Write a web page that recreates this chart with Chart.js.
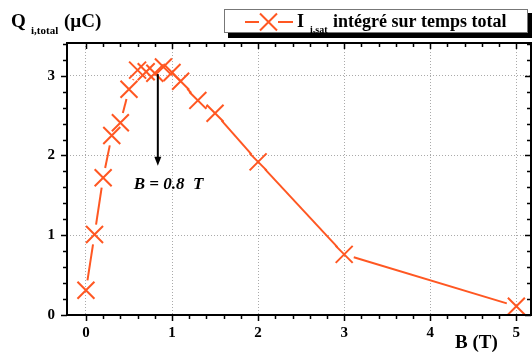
<!DOCTYPE html>
<html>
<head>
<meta charset="utf-8">
<script src="https://cdn.jsdelivr.net/npm/chart.js@4.4.0/dist/chart.umd.min.js"></script>
<style>
  html, body { margin: 0; padding: 0; background: #fff; }
  #wrap { width: 532px; height: 352px; }
</style>
</head>
<body>
<div id="wrap"><canvas id="qChart" width="532" height="352"></canvas></div>
<script>
// B field (T) and integrated charge Q (µC)
const bValues = [0, 0.1, 0.2, 0.3, 0.4, 0.5, 0.6, 0.7, 0.8, 0.9, 1.0, 1.1, 1.3, 1.5, 2, 3, 5];
const qValues = [0.31, 1.01, 1.72, 2.25, 2.41, 2.83, 3.07, 3.05, 3.03, 3.11, 3.04, 2.93, 2.69, 2.53, 1.92, 0.76, 0.11];
const xTicks = [0, 1, 2, 3, 4, 5];
const yTicks = [0, 1, 2, 3];
const seriesLabel = 'intégré sur temps total';
const noteText = 'B = 0.8  T';

const orange = '#ff5722';
const serif = "'Liberation Serif', 'Times New Roman', serif";

// line with gaps round the markers, like the original plot
const gappedLine = {
    id: 'gappedLine',
    beforeDatasetsDraw(chart) {
        const ctx = chart.ctx;
        const pts = chart.getDatasetMeta(0).data;
        const gap = 10;
        ctx.save();
        ctx.strokeStyle = orange;
        ctx.lineWidth = 2;
        for (let i = 0; i < pts.length - 1; i++) {
            const a = pts[i], b = pts[i + 1];
            const dx = b.x - a.x, dy = b.y - a.y;
            const len = Math.hypot(dx, dy);
            if (len <= 2 * gap) continue;
            const ux = dx / len, uy = dy / len;
            ctx.beginPath();
            ctx.moveTo(a.x + ux * gap, a.y + uy * gap);
            ctx.lineTo(b.x - ux * gap, b.y - uy * gap);
            ctx.stroke();
        }
        ctx.restore();
    }
};

// frame with major and minor ticks on all four sides
const frameTicks = {
    id: 'frameTicks',
    afterDraw(chart) {
        const ctx = chart.ctx;
        const { left, right, top, bottom } = chart.chartArea;
        const xs = chart.scales.x, ys = chart.scales.y;
        ctx.save();
        ctx.strokeStyle = '#000';
        ctx.lineWidth = 2;
        ctx.strokeRect(left, top, right - left, bottom - top);
        ctx.lineWidth = 1.5;
        ctx.beginPath();
        for (let v = 0; v <= 5.1; v += 0.2) {
            const major = Math.abs(v - Math.round(v)) < 1e-6;
            const px = Math.round(xs.getPixelForValue(v)) + 0.5;
            ctx.moveTo(px, bottom);
            ctx.lineTo(px, bottom + (major ? 6 : 4));
            ctx.moveTo(px, top);
            ctx.lineTo(px, top + (major ? 6 : 4));
        }
        for (let v = 0; v <= 3.41; v += 0.2) {
            const major = Math.abs(v - Math.round(v)) < 1e-6;
            const py = Math.round(ys.getPixelForValue(v)) + 0.5;
            ctx.moveTo(left, py);
            ctx.lineTo(left - (major ? 6 : 4), py);
            ctx.moveTo(right, py);
            ctx.lineTo(right - (major ? 6 : 4), py);
        }
        ctx.stroke();
        ctx.restore();
    }
};

// arrow, note, axis titles and legend box
const annotations = {
    id: 'annotations',
    afterDraw(chart) {
        const ctx = chart.ctx;
        const xs = chart.scales.x, ys = chart.scales.y;
        ctx.save();

        // arrow at B = 0.8 T
        const ax = xs.getPixelForValue(0.835);
        const ay0 = ys.getPixelForValue(3.02);
        const ay1 = ys.getPixelForValue(1.87);
        ctx.strokeStyle = '#000';
        ctx.fillStyle = '#000';
        ctx.lineWidth = 2;
        ctx.beginPath();
        ctx.moveTo(ax, ay0);
        ctx.lineTo(ax, ay1 - 8);
        ctx.stroke();
        ctx.beginPath();
        ctx.moveTo(ax - 3.5, ay1 - 9);
        ctx.lineTo(ax + 3.5, ay1 - 9);
        ctx.lineTo(ax, ay1);
        ctx.closePath();
        ctx.fill();

        ctx.font = 'italic bold 17px ' + serif;
        ctx.textAlign = 'center';
        ctx.textBaseline = 'middle';
        ctx.fillText(noteText, xs.getPixelForValue(0.96), ys.getPixelForValue(1.63));

        // y axis title
        ctx.textAlign = 'left';
        ctx.textBaseline = 'alphabetic';
        ctx.font = 'bold 19px ' + serif;
        ctx.fillText('Q', 11, 27);
        ctx.font = 'bold 11px ' + serif;
        ctx.fillText('i,total', 31, 34);
        ctx.font = 'bold 19px ' + serif;
        ctx.fillText('(µC)', 64, 27);

        // x axis title
        ctx.font = 'bold 19px ' + serif;
        ctx.fillText('B (T)', 455, 348);

        // legend box with shadow
        ctx.fillStyle = '#000';
        ctx.fillRect(228, 13, 304, 25);
        ctx.fillStyle = '#fff';
        ctx.fillRect(224, 9, 304, 24);
        ctx.strokeStyle = '#777';
        ctx.lineWidth = 1;
        ctx.strokeRect(224.5, 9.5, 303, 23);

        ctx.strokeStyle = orange;
        ctx.lineWidth = 2;
        ctx.beginPath();
        ctx.moveTo(245, 22);
        ctx.lineTo(259, 22);
        ctx.moveTo(278, 22);
        ctx.lineTo(293, 22);
        const cx = 268.5, cy = 22, h = 8.5;
        ctx.moveTo(cx - h, cy - h);
        ctx.lineTo(cx + h, cy + h);
        ctx.moveTo(cx + h, cy - h);
        ctx.lineTo(cx - h, cy + h);
        ctx.stroke();

        ctx.fillStyle = '#000';
        ctx.font = 'bold 18px ' + serif;
        ctx.fillText('I', 297, 27);
        ctx.font = 'bold 10px ' + serif;
        ctx.fillText('i,sat', 310, 33);
        ctx.font = 'bold 18px ' + serif;
        ctx.fillText(seriesLabel, 333, 27);

        ctx.restore();
    }
};

const ctx = document.getElementById('qChart').getContext('2d');
const chart = new Chart(ctx, {
    type: 'scatter',
    data: {
        datasets: [{
            label: 'I i,sat ' + seriesLabel,
            data: bValues.map((b, i) => ({ x: b, y: qValues[i] })),
            showLine: false,
            pointStyle: 'crossRot',
            pointRadius: 12,
            pointHoverRadius: 12,
            borderColor: orange,
            backgroundColor: orange,
            borderWidth: 2
        }]
    },
    options: {
        responsive: false,
        animation: false,
        devicePixelRatio: 1,
        layout: { autoPadding: false, padding: { top: 43, right: 1, left: 0, bottom: 0 } },
        plugins: {
            legend: { display: false },
            tooltip: { enabled: false }
        },
        scales: {
            x: {
                type: 'linear',
                min: -0.22,
                max: 5.17,
                afterBuildTicks: s => { s.ticks = xTicks.map(v => ({ value: v })); },
                afterFit: s => { s.height = 37; s.paddingLeft = 0; s.paddingRight = 0; },
                grid: { color: '#aaa', lineWidth: 1, drawTicks: false },
                border: { display: false, dash: [1, 2] },
                ticks: {
                    padding: 9,
                    maxRotation: 0,
                    color: '#000',
                    font: { family: serif, weight: 'bold', size: 15 }
                }
            },
            y: {
                type: 'linear',
                min: 0,
                max: 3.41,
                afterBuildTicks: s => { s.ticks = yTicks.map(v => ({ value: v })); },
                afterFit: s => { s.width = 67; s.paddingTop = 0; s.paddingBottom = 0; },
                grid: { color: '#aaa', lineWidth: 1, drawTicks: false },
                border: { display: false, dash: [1, 2] },
                ticks: {
                    padding: 12,
                    color: '#000',
                    font: { family: serif, weight: 'bold', size: 15 }
                }
            }
        }
    },
    plugins: [gappedLine, frameTicks, annotations]
});
</script>
</body>
</html>
